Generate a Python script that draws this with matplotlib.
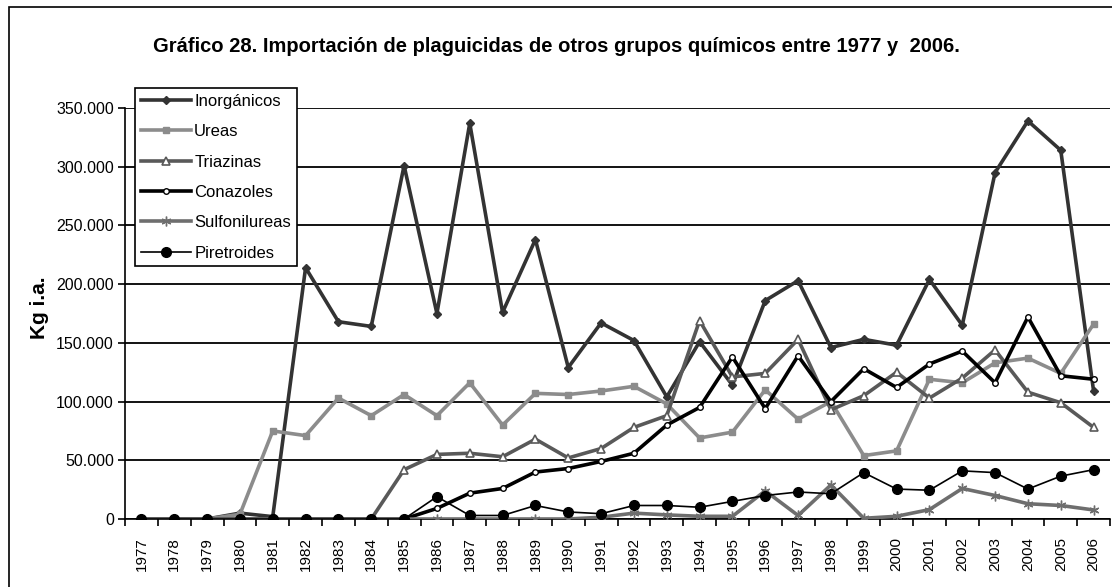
import matplotlib
matplotlib.use("Agg")
import matplotlib.pyplot as plt
from matplotlib.ticker import FuncFormatter, FixedLocator
from matplotlib.patches import Rectangle

plt.rcParams['font.family'] = ['Liberation Sans', 'DejaVu Sans']

years = [str(y) for y in range(1977, 2007)]

inorganicos = [0, 0, 0, 5000, 2000, 214000, 168000, 164000, 301000, 175000,
               337000, 176000, 238000, 129000, 167000, 152000, 104000, 151000, 114000, 186000,
               203000, 146000, 153000, 148000, 204000, 165000, 295000, 339000, 314000, 109000]
ureas = [0, 0, 0, 4000, 75000, 71000, 103000, 88000, 106000, 88000,
         116000, 80000, 107000, 106000, 109000, 113000, 98000, 69000, 74000, 110000,
         85000, 100000, 54000, 58000, 119000, 116000, 133000, 137000, 124000, 166000]
triazinas = [0, 0, 0, 0, 0, 0, 0, 0, 42000, 55000,
             56000, 53000, 68000, 52000, 60000, 78000, 88000, 169000, 121000, 124000,
             153000, 93000, 105000, 125000, 103000, 120000, 144000, 108000, 99000, 78000]
conazoles = [0, 0, 0, 0, 0, 0, 0, 0, 0, 9000,
             22000, 26000, 40000, 43000, 49000, 56000, 80000, 95000, 138000, 94000,
             139000, 100000, 128000, 112000, 132000, 143000, 116000, 172000, 122000, 119000]
sulfonilureas = [0, 0, 0, 0, 0, 0, 0, 0, 0, 0,
                 0, 0, 0, 0, 1500, 5000, 3500, 2300, 2300, 24000,
                 3000, 29000, 600, 2300, 8000, 26000, 20000, 13000, 11500, 7700]
piretroides = [0, 0, 0, 0, 0, 0, 0, 0, 0, 19000,
               3000, 3000, 11500, 6000, 4500, 11500, 11500, 10000, 15000, 20000,
               23000, 21500, 39500, 25500, 24500, 41000, 39500, 25500, 36500, 42000]

fig = plt.figure(figsize=(11.12, 5.87), dpi=100)
ax = fig.add_axes([125 / 1112, 1 - 519 / 587, 985 / 1112, 411 / 587])

x = list(range(len(years)))
ax.plot(x, inorganicos, color='#333333', lw=2.6, marker='D', ms=4, mfc='#333333', mec='#333333', label='Inorgánicos', zorder=3)
ax.plot(x, ureas, color='#8c8c8c', lw=2.6, marker='s', ms=5, mfc='#8c8c8c', mec='#8c8c8c', label='Ureas', zorder=3)
ax.plot(x, triazinas, color='#595959', lw=2.6, marker='^', ms=6, mfc='white', mec='#595959', mew=1.2, label='Triazinas', zorder=3)
ax.plot(x, conazoles, color='black', lw=2.6, marker='o', ms=4, mfc='white', mec='black', mew=1, label='Conazoles', zorder=3)
ax.plot(x, sulfonilureas, color='#6e6e6e', lw=2.6, marker=(6, 2, 0), ms=7, mec='#6e6e6e', mew=1, label='Sulfonilureas', zorder=3)
ax.plot(x, piretroides, color='black', lw=1.2, marker='o', ms=7, mfc='black', mec='black', label='Piretroides', zorder=3)

ax.set_xlim(-0.5, len(years) - 0.5)
ax.set_ylim(0, 350000)
ax.set_yticks(range(0, 350001, 50000))
ax.yaxis.set_major_formatter(FuncFormatter(lambda v, p: f"{v:,.0f}".replace(',', '.')))
ax.set_xticks(x)
ax.set_xticklabels(years, rotation=90, fontsize=11)
ax.xaxis.set_minor_locator(FixedLocator([i - 0.5 for i in range(len(years) + 1)]))
ax.tick_params(axis='x', which='major', length=0, pad=13)
ax.tick_params(axis='x', which='minor', length=5, width=1.2, direction='out')
ax.tick_params(axis='y', length=5, width=1.2, direction='out', labelsize=11.5, pad=3)

ax.yaxis.grid(True, color='black', lw=1.3)
ax.set_axisbelow(True)
for side in ['top', 'right']:
    ax.spines[side].set_visible(False)
ax.spines['left'].set_linewidth(1.2)
ax.spines['bottom'].set_linewidth(1.2)

ax.set_ylabel('Kg i.a.', fontsize=15, fontweight='bold')
ax.yaxis.set_label_coords(-0.077, 0.515)

fig.text(556 / 1112, 1 - 47 / 587, 'Gráfico 28. Importación de plaguicidas de otros grupos químicos entre 1977 y  2006.',
         ha='center', va='center', fontsize=14.5, fontweight='bold')

leg = ax.legend(loc='upper left', bbox_to_anchor=(135 / 1112, 1 - 88 / 587), bbox_transform=fig.transFigure,
                fontsize=12, frameon=True, fancybox=False, edgecolor='black', framealpha=1,
                handlelength=3.0, handletextpad=0.2, labelspacing=0.92, borderpad=0.35, borderaxespad=0)
leg.get_frame().set_linewidth(1.2)

fig.patches.append(Rectangle((9 / 1112, -0.05), 1.1, 1 - 7 / 587 + 0.05, transform=fig.transFigure,
                             fill=False, edgecolor='black', lw=1.2))

fig.savefig('out.png', dpi=100)
